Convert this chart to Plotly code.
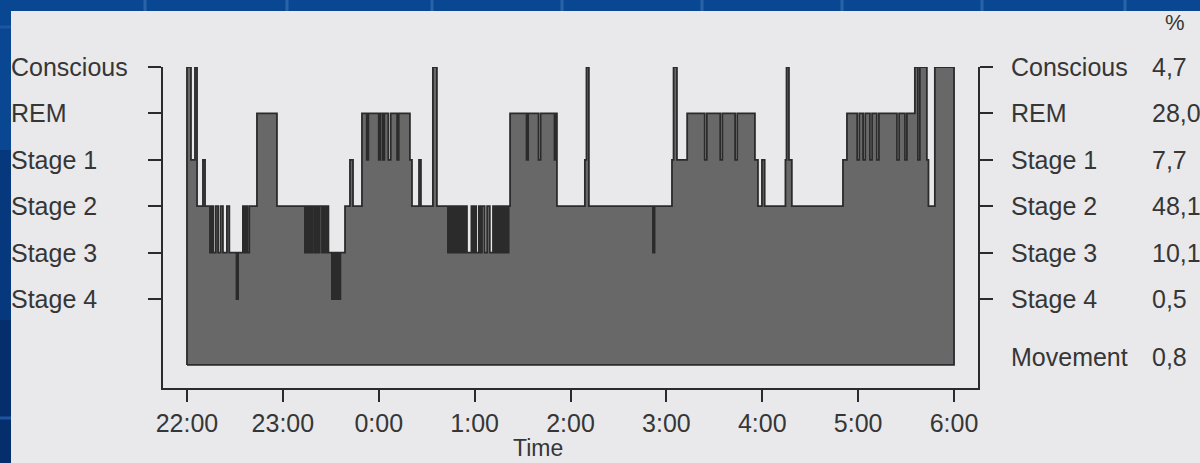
import plotly.graph_objects as go

# ---------------- data ----------------
stage_names = ["Conscious", "REM", "Stage 1", "Stage 2", "Stage 3", "Stage 4"]
stage_levels = [6, 5, 4, 3, 2, 1]
stage_percent = ["4,7", "28,0", "7,7", "48,1", "10,1", "0,5"]
movement_name = "Movement"
movement_percent = "0,8"

hour_ticks_min = [0, 60, 120, 180, 240, 300, 360, 420, 480]
hour_labels = ["22:00", "23:00", "0:00", "1:00", "2:00", "3:00", "4:00", "5:00", "6:00"]

record_end_min = 480
baseline_level = -0.42

# hypnogram change points: minutes after 22:00 and the stage level entered
change_min = [
    0, 2.5, 5, 6.3, 10, 11.3, 14.4, 15.5, 16.5, 18, 19.5, 21, 22.5, 25, 26.5, 31, 32, 35, 36, 37, 37.8, 39,
    43.8, 56.3,
    73.8, 74.8, 75.8, 76.8, 77.8, 78.8, 80, 81, 82, 83, 84.5, 85.5, 86.5, 87.5, 88.5,
    90.7, 91.5, 92.2, 93, 93.7, 94.5, 95.2, 96, 98.9,
    102, 103.9, 109.5, 112.5, 113.5, 120, 121, 122.5, 123.5, 126, 127.5, 131.5, 132.5,
    139.5, 140.8, 145.2, 146.4, 153.9, 156.4,
    163.3, 164.3, 165.3, 166.2, 167.2, 168.2, 169.2, 170.2, 171.2, 172.2, 173.2, 174.2, 175.2, 178, 179, 180,
    181, 182.7, 183.7, 184.6, 186.3, 187.8, 189.5, 191.5, 192.5, 193.5, 194.5, 195.5, 196.5, 197.5, 198.5,
    199.5, 200.5, 201.3,
    202.2, 212.5, 213.5, 220, 221.3, 230, 230.8, 231.5,
    249, 250, 251.5, 291.6, 292.6,
    303.5, 304.5, 306.6, 313, 324, 325.3, 333.7, 335, 343, 344.3,
    355.4, 357.3, 359.8, 361.5, 374.5, 375.2, 376.7, 378.5,
    410.5, 413, 419.4, 420.7, 423.1, 424.4, 427.4, 428.7, 431.7, 433, 444.3, 445.6,
    449.3, 450.5, 455.5, 457.4, 458.6, 463, 464, 468,
]
change_stage = [
    6, 4, 6, 3, 4, 3, 2, 3, 2, 3, 2, 3, 2, 3, 2, 1, 2, 3, 2, 3, 2, 3,
    5, 3,
    2, 3, 2, 3, 2, 3, 2, 3, 2, 3, 2, 3, 2, 3, 2,
    1, 2, 1, 2, 1, 2, 1, 2, 3,
    4, 3, 5, 4, 5, 4, 5, 4, 5, 4, 5, 4, 5,
    4, 3, 4, 3, 6, 3,
    2, 3, 2, 3, 2, 3, 2, 3, 2, 3, 2, 3, 2, 3, 2, 3,
    2, 3, 2, 3, 2, 3, 2, 3, 2, 3, 2, 3, 2, 3, 2,
    3, 2, 3,
    5, 4, 5, 4, 5, 4, 5, 3,
    4, 6, 3, 2, 3,
    4, 6, 4, 5, 4, 5, 4, 5, 4, 5,
    4, 3, 4, 3, 4, 6, 4, 3,
    4, 5, 4, 5, 4, 5, 4, 5, 4, 5, 4, 5,
    4, 5, 6, 4, 6, 4, 3, 6,
]

# ---------------- geometry helpers (layout only) ----------------
W, H = 1200, 463
L, T, R, B = 163, 67, 222, 75
PW, PH = W - L - R, H - T - B


def px(xp):
    return (xp - L) / PW


def py(yp):
    return (T + PH - yp) / PH


FONT = "Liberation Sans, Arial, sans-serif"
TXT = "#363636"
INK = "#2b2b2b"
FS = 25

xs = [0] + change_min + [record_end_min, record_end_min, 0]
ys = [baseline_level] + change_stage + [change_stage[-1], baseline_level, baseline_level]

fig = go.Figure()
fig.add_trace(go.Scatter(
    x=xs, y=ys, mode="lines", line=dict(shape="hv", color=INK, width=1.8),
    fill="toself", fillcolor="#686868", hoverinfo="skip", showlegend=False,
))

shapes = [
    dict(type="rect", xref="paper", yref="paper", x0=px(11), x1=px(W + 5), y0=py(H + 5), y1=py(11),
         fillcolor="#e9e9eb", line=dict(width=0), layer="below"),
    dict(type="rect", xref="paper", yref="paper", x0=px(-2), x1=px(11), y0=py(H + 5), y1=py(150),
         fillcolor="#06387e", line=dict(width=0), layer="below"),
    dict(type="rect", xref="paper", yref="paper", x0=px(-2), x1=px(11), y0=py(H + 5), y1=py(320),
         fillcolor="#052f6c", line=dict(width=0), layer="below"),
]
for lx in [145, 287, 432, 562, 702, 842, 982, 1125]:
    shapes.append(dict(type="line", xref="paper", yref="paper", x0=px(lx), x1=px(lx), y0=py(11), y1=py(-2),
                       line=dict(color="#2a62a6", width=3), layer="below"))
for ly in [27, 418]:
    shapes.append(dict(type="line", xref="paper", yref="paper", x0=px(-2), x1=px(11), y0=py(ly), y1=py(ly),
                       line=dict(color="#1f55a0", width=3), layer="below"))

annotations = []
for name, lvl, pct in zip(stage_names, stage_levels, stage_percent):
    annotations.append(dict(text=name, xref="paper", yref="y", x=px(9), y=lvl, xanchor="left",
                            yanchor="middle", showarrow=False, font=dict(family=FONT, size=FS, color=TXT)))
    annotations.append(dict(text=name, xref="paper", yref="y", x=px(1009), y=lvl, xanchor="left",
                            yanchor="middle", showarrow=False, font=dict(family=FONT, size=FS, color=TXT)))
    annotations.append(dict(text=pct, xref="paper", yref="y", x=px(1150), y=lvl, xanchor="left",
                            yanchor="middle", showarrow=False, font=dict(family=FONT, size=FS, color=TXT)))
annotations.append(dict(text=movement_name, xref="paper", yref="paper", x=px(1009), y=py(357), xanchor="left",
                        yanchor="middle", showarrow=False, font=dict(family=FONT, size=FS, color=TXT)))
annotations.append(dict(text=movement_percent, xref="paper", yref="paper", x=px(1150), y=py(357), xanchor="left",
                        yanchor="middle", showarrow=False, font=dict(family=FONT, size=FS, color=TXT)))
annotations.append(dict(text="%", xref="paper", yref="paper", x=px(1175), y=py(22), xanchor="center",
                        yanchor="middle", showarrow=False, font=dict(family=FONT, size=22, color=TXT)))
annotations.append(dict(text="Time", xref="paper", yref="paper", x=px(538), y=py(463), xanchor="center",
                        yanchor="bottom", showarrow=False, font=dict(family=FONT, size=23, color=TXT)))

fig.update_layout(
    width=W, height=H,
    margin=dict(l=L, r=R, t=T, b=B, pad=0),
    paper_bgcolor="#0a4793",
    plot_bgcolor="rgba(0,0,0,0)",
    shapes=shapes,
    annotations=annotations,
    showlegend=False,
    xaxis=dict(
        range=[-15, 495], tickvals=hour_ticks_min, ticktext=hour_labels,
        showgrid=False, zeroline=False, showline=True, linecolor=INK, linewidth=1.5,
        ticks="outside", ticklen=12, tickwidth=1.5, tickcolor=INK,
        tickfont=dict(family=FONT, size=FS, color=TXT), fixedrange=True,
    ),
    yaxis=dict(
        range=[-0.918, 6.0], tickvals=stage_levels, showticklabels=False,
        showgrid=False, zeroline=False, showline=True, linecolor=INK, linewidth=1.5,
        ticks="outside", ticklen=13, tickwidth=1.5, tickcolor=INK, mirror="ticks", fixedrange=True,
    ),
)

fig.write_html("out.html")
